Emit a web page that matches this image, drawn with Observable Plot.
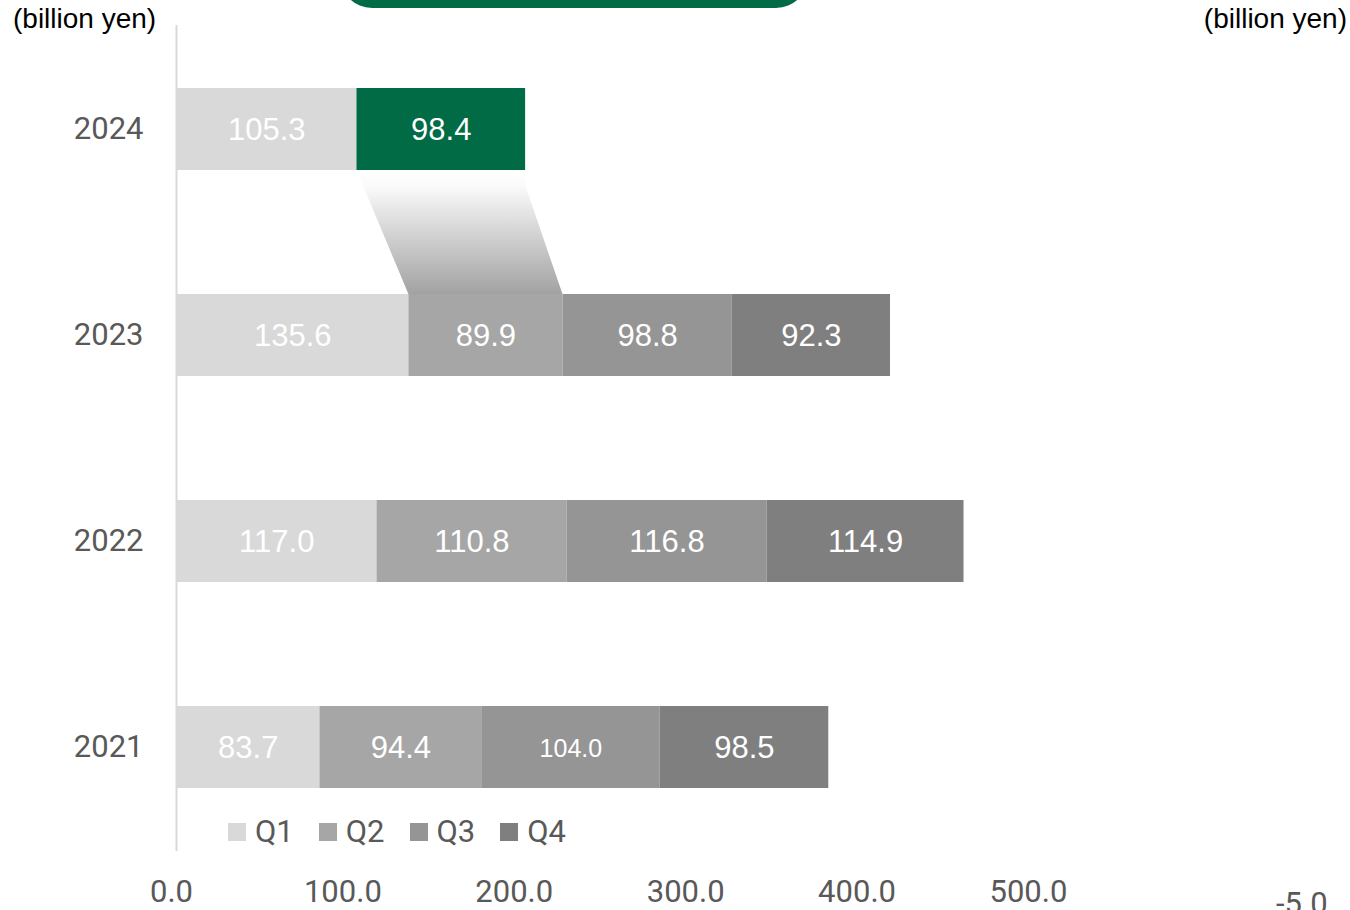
<!DOCTYPE html>
<html>
<head>
<meta charset="utf-8">
<script src="https://cdn.jsdelivr.net/npm/d3@7"></script>
<script src="https://cdn.jsdelivr.net/npm/@observablehq/plot@0.6"></script>
<style>
  body { margin: 0; background: #fff; overflow: hidden; }
  #wrap { position: relative; width: 1350px; height: 910px; overflow: hidden; }
  .unit { position: absolute; top: 3px; font: 28px "Liberation Sans", Arial, sans-serif; color: #000; white-space: nowrap; }
  #titlebox { position: absolute; left: 340px; top: -70px; width: 468px; height: 78px; background: #006b45; border-radius: 32px; }
  #legend { position: absolute; left: 228px; top: 813px; display: flex; align-items: center; font: 31px Roboto, sans-serif; color: #595959; }
  #legend .item { display: flex; align-items: center; margin-right: 25px; }
  #legend .sw { width: 18px; height: 18px; margin-right: 9px; }
  #sec { position: absolute; left: 1276px; top: 885px; font: 31px Roboto, sans-serif; color: #595959; }
</style>
</head>
<body>
<div id="wrap">
  <div id="titlebox"></div>
  <div class="unit" style="left:13px">(billion yen)</div>
  <div class="unit" style="right:3px">(billion yen)</div>
  <div id="chart"></div>
  <div id="legend"></div>
  <div id="sec"></div>
</div>
<script>
// ---- data ----
const years = ["2024", "2023", "2022", "2021"];
const quarters = ["Q1", "Q2", "Q3", "Q4"];
const q1 = [105.3, 135.6, 117.0, 83.7];
const q2 = [98.4, 89.9, 110.8, 94.4];
const q3 = [null, 98.8, 116.8, 104.0];
const q4 = [null, 92.3, 114.9, 98.5];
const xTicks = [0, 100, 200, 300, 400, 500];
const secondaryTick = "-5.0";
const highlightYear = "2024";
const highlightQuarter = "Q2";
const compareYear = "2023";

const quarterColors = ["#d9d9d9", "#a6a6a6", "#959595", "#7f7f7f"];
const highlightColor = "#006b45";

// build stacked rows
const series = [q1, q2, q3, q4];
const rows = [];
years.forEach((year, i) => {
  let acc = 0;
  quarters.forEach((q, j) => {
    const v = series[j][i];
    if (v == null) return;
    const hl = year === highlightYear && q === highlightQuarter;
    rows.push({year, quarter: q, value: v, x1: acc, x2: acc + v, key: hl ? "HL" : q});
    acc += v;
  });
});

const narrowYears = ["2022"];
const labelRows = rows.filter(d => !narrowYears.includes(d.year) && !(d.year === "2021" && d.quarter === "Q3"));
const narrowRows = rows.filter(d => narrowYears.includes(d.year));
const smallRows = rows.filter(d => d.year === "2021" && d.quarter === "Q3");

const hlRow = rows.find(d => d.year === highlightYear && d.quarter === highlightQuarter);
const cmpRow = rows.find(d => d.year === compareYear && d.quarter === highlightQuarter);

// connector shape from highlighted bar to same quarter of compare year
function connector(index, scales) {
  const x = scales.x, y = scales.y;
  const bwRaw = y.bandwidth;
  const bw = typeof bwRaw === "function" ? bwRaw() : bwRaw;
  const yTop = y(hlRow.year) + bw;
  const yBot = y(cmpRow.year);
  const g = d3.create("svg:g");
  const defs = g.append("defs");
  const grad = defs.append("linearGradient").attr("id", "connGrad")
    .attr("x1", 0).attr("y1", 0).attr("x2", 0).attr("y2", 1);
  grad.append("stop").attr("offset", "0%").attr("stop-color", "#ffffff");
  grad.append("stop").attr("offset", "12%").attr("stop-color", "#fbfbfb");
  grad.append("stop").attr("offset", "100%").attr("stop-color", "#a2a2a2");
  const pts = [
    [x(hlRow.x1), yTop], [x(hlRow.x2), yTop],
    [x(hlRow.x2), yTop + (yBot - yTop) * 0.12],
    [x(cmpRow.x2), yBot], [x(cmpRow.x1), yBot]
  ];
  g.append("path").attr("d", "M" + pts.map(p => p.join(",")).join("L") + "Z")
    .attr("fill", "url(#connGrad)");
  return g.node();
}

const chart = Plot.plot({
  width: 1350,
  height: 910,
  marginLeft: 176,
  marginRight: 0,
  marginTop: 25,
  marginBottom: 59,
  style: {fontFamily: "Roboto, sans-serif", fontSize: "31px", color: "#595959", background: "transparent"},
  x: {domain: [0, 685], ticks: xTicks, tickFormat: d => d.toFixed(1), tickSize: 0, tickPadding: 28, label: null, line: false},
  y: {domain: years, paddingInner: 0.6, paddingOuter: 0.3, tickSize: 0, tickPadding: 33, label: null},
  color: {domain: [...quarters, "HL"], range: [...quarterColors, highlightColor]},
  marks: [
    Plot.ruleX([0], {stroke: "#d9d9d9", strokeWidth: 2}),
    connector,
    Plot.barX(rows, {x1: "x1", x2: "x2", y: "year", fill: "key"}),
    Plot.text(labelRows, {x: d => (d.x1 + d.x2) / 2, y: "year", text: d => d.value.toFixed(1), fill: "white", fontSize: 31, fontFamily: "Liberation Sans, Arial, sans-serif", dy: 1}),
    Plot.text(narrowRows, {x: d => (d.x1 + d.x2) / 2, y: "year", text: d => d.value.toFixed(1), fill: "white", fontSize: 31, fontFamily: "Liberation Sans, Arial, sans-serif", dy: 1}),
    Plot.text(smallRows, {x: d => (d.x1 + d.x2) / 2, y: "year", text: d => d.value.toFixed(1), fill: "white", fontSize: 25, fontFamily: "Liberation Sans, Arial, sans-serif", dy: 1})
  ]
});
document.getElementById("chart").appendChild(chart);

// shift x tick labels slightly left like the reference
d3.select(chart).selectAll("g[aria-label='x-axis tick label'] text").attr("dx", -5);

// make the 2022 labels condensed and taller, as in the reference
const narrowSet = new Set(narrowRows.map(r => r.value.toFixed(1)));
d3.select(chart).selectAll("text").filter(function() {
  return narrowSet.has(this.textContent) && this.getAttribute("fill") === "white";
}).each(function() {
  const t = this.getAttribute("transform") || "";
  this.setAttribute("transform", t + " scale(0.82,1.12)");
});

// legend
const legend = d3.select("#legend");
quarters.forEach((q, i) => {
  const item = legend.append("div").attr("class", "item");
  item.append("div").attr("class", "sw").style("background", quarterColors[i]);
  item.append("span").text(q);
});
document.getElementById("sec").textContent = secondaryTick;
</script>
</body>
</html>
